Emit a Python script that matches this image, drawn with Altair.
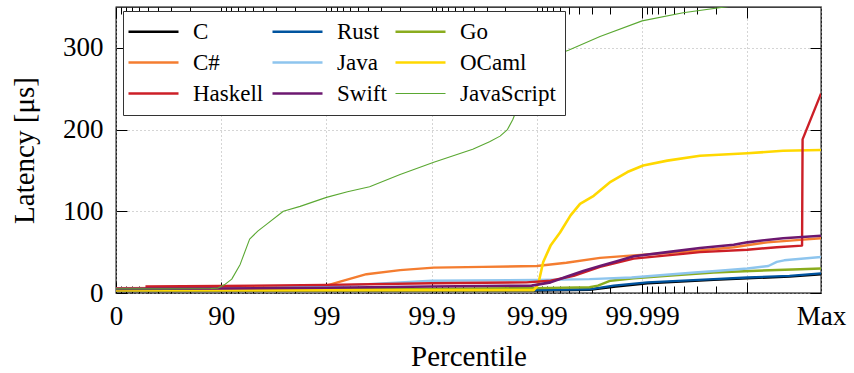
import math
import altair as alt
import pandas as pd

# ---- series (x = number of nines: 0 -> 0th, 1 -> 90th, 2 -> 99th ... ; 6.70 = Max) ----
LANGS = ["C", "Rust", "Go", "C#", "Java", "OCaml", "Haskell", "Swift", "JavaScript"]
COLORS = ["#000000", "#00549f", "#8aac1e", "#f47d30", "#8ec5ee", "#ffd800", "#cc1f27", "#6c1870", "#5aa832"]
WIDTHS = [2.4, 2.4, 2.4, 2.4, 2.4, 2.6, 2.4, 2.6, 1.1]

C_x = [0, 4.0, 4.5, 4.75, 5.05, 5.68, 6.0, 6.4, 6.70]
C_y = [2.5, 3, 4, 8, 12, 16, 18, 20, 23]

Rust_x = [0, 4.0, 4.5, 4.73, 5.05, 5.68, 6.0, 6.4, 6.70]
Rust_y = [3, 3.5, 4.5, 9, 13, 17, 19, 21, 24]

Go_x = [0, 3.0, 4.0, 4.5, 4.58, 4.70, 4.92, 5.24, 5.68, 6.03, 6.5, 6.70]
Go_y = [4, 5, 6, 7, 9, 15, 18, 21, 25, 27, 29, 30]

CS_x = [0, 1.0, 1.96, 2.0, 2.13, 2.38, 2.70, 3.02, 3.49, 4.0, 4.28, 4.60, 4.92, 5.24, 5.55, 5.87, 6.19, 6.50, 6.70]
CS_y = [6, 6.5, 7, 9, 14, 23, 28, 31, 32, 33, 37, 43, 46, 49, 52, 56, 62, 65, 67]

Java_x = [0, 1.0, 2.0, 2.7, 3.0, 4.0, 4.5, 4.9, 5.2, 5.5, 5.7, 6.0, 6.2, 6.28, 6.35, 6.70]
Java_y = [4, 5, 8, 13, 15, 16, 17, 19, 22, 25, 27, 30, 33, 38, 40, 44]

OCaml_x = [0, 3.97, 4.0, 4.02, 4.06, 4.13, 4.22, 4.32, 4.41, 4.54, 4.70, 4.86, 5.01, 5.24, 5.55, 6.0, 6.34, 6.70]
OCaml_y = [3, 3.5, 8, 15, 38, 58, 74, 95, 109, 119, 136, 148, 156, 162, 168, 171, 174, 175]

Haskell_x = [0.28, 1.0, 2.0, 3.0, 3.9, 4.13, 4.35, 4.60, 4.92, 5.24, 5.55, 6.0, 6.28, 6.52, 6.525, 6.70]
Haskell_y = [8, 8.5, 10, 12, 13, 15, 21, 32, 42, 46, 50, 53, 56, 58, 188, 244]

Swift_x = [0, 1.0, 2.0, 3.0, 3.95, 4.13, 4.28, 4.44, 4.60, 4.76, 4.92, 5.24, 5.55, 5.87, 6.0, 6.12, 6.34, 6.70]
Swift_y = [5, 5.5, 6.5, 8, 9, 13, 20, 27, 33, 39, 45, 50, 55, 59, 62, 64, 67, 70]

JS_x = [0, 0.5, 0.9, 0.97, 1.03, 1.10, 1.18, 1.27, 1.35, 1.43, 1.59, 1.75, 2.0, 2.2, 2.41, 2.7, 3.02,
        3.39, 3.55, 3.65, 3.72, 3.77, 3.82, 3.88, 3.95, 4.05, 4.15, 4.30, 4.60, 5.0, 5.39, 5.84, 6.2, 6.70]
JS_y = [5, 5, 5.5, 6, 10, 17, 35, 66, 76, 84, 100, 106, 117, 124, 130, 145, 160,
        176, 185, 192, 200, 212, 228, 250, 268, 282, 290, 297, 314, 333, 343, 351, 358, 365]

SERIES_X = [C_x, Rust_x, Go_x, CS_x, Java_x, OCaml_x, Haskell_x, Swift_x, JS_x]
SERIES_Y = [C_y, Rust_y, Go_y, CS_y, Java_y, OCaml_y, Haskell_y, Swift_y, JS_y]

X_TICKS = [0, 1, 2, 3, 4, 5, 6]
X_LABELS = ["0", "90", "99", "99.9", "99.99", "99.999", ""]
X_MAX = 6.70
Y_TICKS = [0, 100, 200, 300]
Y_MAX = 350

rows = []
for name, xs_, ys_ in zip(LANGS, SERIES_X, SERIES_Y):
    for i, (a, b) in enumerate(zip(xs_, ys_)):
        rows.append({"lang": name, "nines": a, "lat": b, "idx": i})
df = pd.DataFrame(rows)

MINOR = [n + 1 - math.log10(10 - k) for n in range(6) for k in range(1, 9)]

W, H = 705, 286
FONT = "'Liberation Serif', 'Times New Roman', 'DejaVu Serif', serif"

xscale = alt.Scale(domain=[0, X_MAX], nice=False, zero=False)
yscale = alt.Scale(domain=[0, Y_MAX], nice=False)

label_expr = " : ".join(
    [f"datum.value == {v} ? '{l}'" for v, l in zip(X_TICKS, X_LABELS)]
) + " : datum.value > 6.5 ? 'Max' : ''"

legend = alt.Legend(
    title=None, orient="none", legendX=7, legendY=4, columns=3, direction="horizontal",
    symbolType="M-2.5,0H2.5", symbolSize=400, symbolOffset=10,
    labelFont=FONT, labelFontSize=23, labelColor="black",
    fillColor="white", strokeColor="#333333", padding=9,
    rowPadding=7, columnPadding=3, labelOffset=28,
)

lines = alt.Chart(df).mark_line(clip=True, strokeJoin="round").encode(
    x=alt.X("nines:Q", scale=xscale, axis=alt.Axis(
        orient="bottom", values=X_TICKS + [X_MAX], labelExpr=label_expr,
        title="Percentile", grid=True, gridDash=[1, 3], gridColor="#aaaaaa", gridWidth=1,
        ticks=False, domain=False, labelFont=FONT, labelFontSize=27, labelColor="black",
        labelPadding=31, labelBaseline="alphabetic", labelFlush=False,
        titleFont=FONT, titleFontSize=29, titleFontWeight="normal", titleColor="black",
        titleY=72, titleBaseline="alphabetic")),
    y=alt.Y("lat:Q", scale=yscale, axis=alt.Axis(
        orient="left", values=Y_TICKS, title="Latency [μs]",
        grid=True, gridDash=[1, 3], gridColor="#aaaaaa", gridWidth=1,
        ticks=False, domain=False, labelFont=FONT, labelFontSize=27, labelColor="black",
        labelPadding=13, labelBaseline="middle",
        titleFont=FONT, titleFontSize=29, titleFontWeight="normal", titleColor="black",
        titleX=-83, titleBaseline="alphabetic")),
    color=alt.Color("lang:N", scale=alt.Scale(domain=LANGS, range=COLORS), sort=LANGS, legend=legend),
    strokeWidth=alt.StrokeWidth("lang:N", scale=alt.Scale(type="ordinal", domain=LANGS, range=WIDTHS),
                                sort=LANGS, legend=legend),
    order="idx:Q",
)


def tick_layer(xvals, xorient, yvals, yorient, size):
    enc = {
        "x": alt.X("nines:Q", scale=xscale, axis=alt.Axis(
            orient=xorient, offset=-H, values=xvals, labels=False, grid=False, domain=False,
            ticks=True, tickSize=size, tickColor="black", tickWidth=1, title=None)),
    }
    if yvals is not None:
        enc["y"] = alt.Y("lat:Q", scale=yscale, axis=alt.Axis(
            orient=yorient, offset=-W, values=yvals, labels=False, grid=False, domain=False,
            ticks=True, tickSize=size, tickColor="black", tickWidth=1, title=None))
    else:
        enc["y"] = alt.Y("lat:Q", scale=yscale, axis=None)
    return alt.Chart(df).mark_point(opacity=0).encode(**enc)


t1 = tick_layer(X_TICKS, "top", Y_TICKS, "right", 11)
t2 = tick_layer(X_TICKS, "bottom", Y_TICKS, "left", 11)
t3 = tick_layer(MINOR, "top", None, None, 7)
t4 = tick_layer(MINOR, "bottom", None, None, 7)

chart = alt.layer(lines, t1, t2, t3, t4).resolve_axis(
    x="independent", y="independent"
).properties(
    width=W, height=H,
    padding={"left": 116, "top": 7, "right": 33, "bottom": 80},
    autosize=alt.AutoSizeParams(type="none"),
    background="white",
).configure_view(stroke="black", strokeWidth=1.3)

chart.save("out.html", embed_options={"renderer": "svg", "actions": False})
